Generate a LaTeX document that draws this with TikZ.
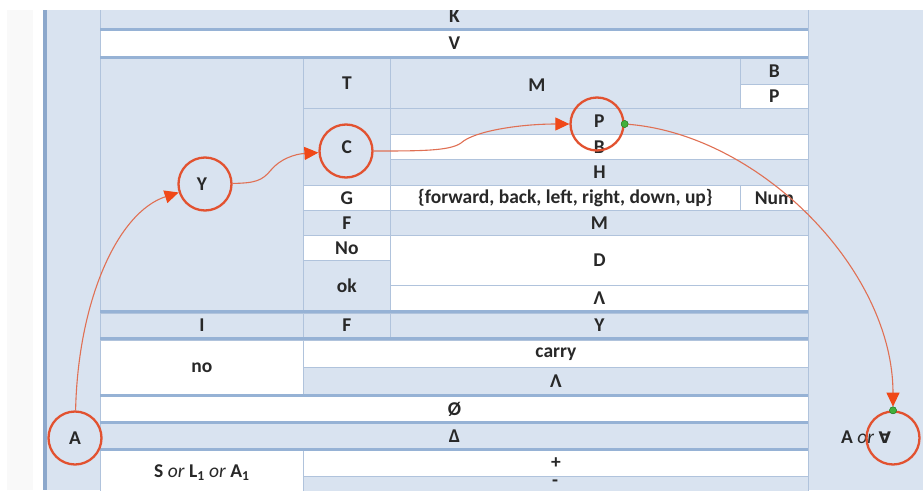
\documentclass[tikz,border=0pt]{standalone}
\usepackage{fontspec}
\setmainfont{Carlito}
\newfontfamily\symfont{DejaVu Sans}
\usetikzlibrary{positioning,arrows.meta}
\definecolor{pale}{RGB}{217,227,240}
\definecolor{band}{RGB}{150,178,213}
\definecolor{gridline}{RGB}{176,195,220}
\definecolor{sideline}{RGB}{140,168,204}
\definecolor{ringred}{RGB}{226,82,48}
\definecolor{flowred}{RGB}{224,112,84}
\definecolor{tipred}{RGB}{240,72,24}
\definecolor{dotgreen}{RGB}{64,176,60}
\definecolor{ink}{RGB}{40,40,40}
\tikzset{
  cell/.style={draw=gridline, line width=0.8pt, inner sep=0pt, anchor=north west,
               text=ink, font=\fontsize{19.5}{21}\selectfont\bfseries},
  cb/.style={cell, fill=pale},
  cw/.style={cell, fill=white},
  sz/.style 2 args={minimum width=#1, minimum height=#2},
  txt/.style={text=ink, inner sep=0pt, font=\fontsize{19.5}{21}\selectfont\bfseries},
  rule/.style={band, line width=3pt},
  ring/.style={circle, draw=ringred, line width=2.3pt, minimum size=53pt, inner sep=0pt,
               text=ink, font=\fontsize{19.5}{21}\selectfont\bfseries},
  flow/.style={-{Triangle[length=14pt, width=13pt, color=tipred]}, flowred, line width=1.1pt},
  dot/.style={circle, fill=dotgreen, draw=dotgreen!70!black, line width=0.4pt,
              minimum size=7pt, inner sep=0pt}
}
\begin{document}
\begin{tikzpicture}[x=1pt, y=-1pt]
\useasboundingbox (0,0) rectangle (923,490);
% side panels
\fill[gray!5] (7,0) rectangle (33,490);
\fill[sideline] (43,0) rectangle (46.5,490);
\fill[pale] (46.5,0) rectangle (100,490);
\fill[pale] (808,0) rectangle (923,490);
\draw[gridline, line width=1.4pt] (808,0) -- (808,490);
% table
\node[cb, sz={708}{26}] (k) at (100,3) {K};
\node[cw, sz={708}{26}] (v) at (100,30) {V};
\node[cb, sz={203}{252}] (big) at (100,58) {Y};
\node[cb, sz={87}{50}] (t) at (303,58) {T};
\node[cb, sz={350}{50}] (mhead) at (390,58) {};
\node[txt] (mlbl) at (537,85) {M};
\node[cb, sz={68}{26}] (bhead) at (740,58) {B};
\node[cw, sz={68}{24}] (phead) at (740,84) {P};
\node[cb, sz={87}{77}] (c) at (303,108) {C};
\node[cb, sz={418}{26}] (prow) at (390,108) {P};
\node[cw, sz={418}{25}] (brow) at (390,134) {B};
\node[cb, sz={418}{26}] (hrow) at (390,159) {H};
\node[cw, sz={87}{25}] (g) at (303,185) {G};
\node[cw, sz={350}{25}] (dirs) at (390,185) {\{forward, back, left, right, down, up\}};
\node[cw, sz={68}{25}] (num) at (740,185) {Num};
\node[cb, sz={87}{25}] (f) at (303,210) {F};
\node[cb, sz={418}{25}] (mrow) at (390,210) {M};
\node[cw, sz={87}{25}] (no) at (303,235) {No};
\node[cb, sz={87}{50}] (ok) at (303,260) {ok};
\node[cw, sz={418}{50}] (d) at (390,235) {D};
\node[cw, sz={418}{25}] (lam) at (390,285) {Λ};
\node[cb, sz={203}{24}] (i) at (100,313) {I};
\node[cb, sz={87}{24}] (f2) at (303,313) {F};
\node[cb, sz={418}{24}] (yrow) at (390,313) {Y};
\node[cw, sz={203}{54}] (nolow) at (100,340) {no};
\node[cw, sz={505}{27}] (carry) at (303,340) {carry};
\node[cb, sz={505}{27}] (lam2) at (303,367) {Λ};
\node[cw, sz={708}{25}] (empty) at (100,396) {Ø};
\node[cb, sz={708}{25}] (delta) at (100,423) {Δ};
\node[cw, sz={203}{45}] (sla) at (100,450) {S \textit{\mdseries or} L\textsubscript{1} \textit{\mdseries or} A\textsubscript{1}};
\node[cw, sz={505}{26}] (plus) at (303,450) {+};
\node[cb, sz={505}{22}] (minus) at (303,476) {};
\node[txt, text height=6pt, text depth=0pt, anchor=base] (mlbl2) at (555,486) {-};
% rules
\foreach \yy in {29.5,57,311.5,338.5,395,422,449}
  \draw[rule] (100,\yy) -- (808,\yy);
\fill[white] (0,0) rectangle (923,10);
% right label
\node[txt] (alt) at (866,437) {A \textit{\mdseries or} {\symfont\bfseries\fontsize{16}{18}\selectfont ∀}};
% rings
\node[ring] (ringA) at (75,438) {A};
\node[ring] (ringY) at (205,184) {};
\node[ring] (ringC) at (346,151) {};
\node[ring] (ringP) at (597,124) {};
\node[ring] (ringT) at (893,438) {};
\node[dot] (gp) at (ringP.east) {};
\node[dot] (gt) at (ringT.north) {};
% flow
\draw[flow] (ringA) .. controls (78,300) and (118,212) .. (ringY);
\draw[flow] (ringY) .. controls (255,183) and (262,181) .. (271,170)
  .. controls (280,159) and (295,154) .. (ringC);
\draw[flow] (ringC) .. controls (420,151) and (450,151) .. (461,143)
  .. controls (474,131) and (520,124) .. (ringP);
\draw[flow] (gp) .. controls (760,135) and (893,270) .. (gt);
\node[dot] at (gp) {};
\node[dot] at (gt) {};
\end{tikzpicture}
\end{document}
